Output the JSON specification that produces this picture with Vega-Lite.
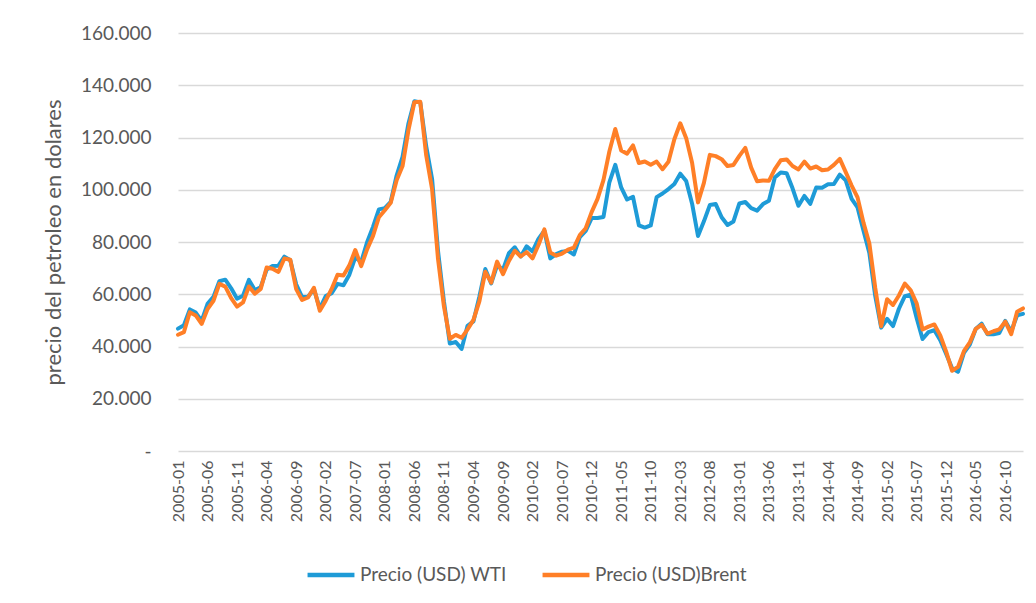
{
  "$schema": "https://vega.github.io/schema/vega-lite/v6.json",
  "width": 845,
  "height": 418,
  "autosize": {"type": "none"},
  "padding": {"left": 178, "top": 33, "right": 13, "bottom": 152},
  "background": "white",
  "config": {
    "font": "Lato",
    "view": {"stroke": null}
  },
  "data": {
    "values": [
      {"m":"2005-01","w":46.84,"b":44.51},{"m":"2005-02","w":48.15,"b":45.48},{"m":"2005-03","w":54.19,"b":53.10},{"m":"2005-04","w":52.98,"b":51.88},{"m":"2005-05","w":49.83,"b":48.65},{"m":"2005-06","w":56.35,"b":54.35},{"m":"2005-07","w":59.00,"b":57.52},{"m":"2005-08","w":64.99,"b":63.98},{"m":"2005-09","w":65.59,"b":62.91},{"m":"2005-10","w":62.26,"b":58.54},{"m":"2005-11","w":58.32,"b":55.24},{"m":"2005-12","w":59.41,"b":56.86},
      {"m":"2006-01","w":65.49,"b":62.99},{"m":"2006-02","w":61.63,"b":60.21},{"m":"2006-03","w":62.69,"b":62.06},{"m":"2006-04","w":69.44,"b":70.26},{"m":"2006-05","w":70.84,"b":69.78},{"m":"2006-06","w":70.95,"b":68.56},{"m":"2006-07","w":74.41,"b":73.67},{"m":"2006-08","w":73.04,"b":73.23},{"m":"2006-09","w":63.80,"b":61.96},{"m":"2006-10","w":58.89,"b":57.81},{"m":"2006-11","w":59.08,"b":58.76},{"m":"2006-12","w":61.96,"b":62.47},
      {"m":"2007-01","w":54.51,"b":53.68},{"m":"2007-02","w":59.28,"b":57.56},{"m":"2007-03","w":60.44,"b":62.05},{"m":"2007-04","w":63.98,"b":67.49},{"m":"2007-05","w":63.46,"b":67.21},{"m":"2007-06","w":67.49,"b":71.05},{"m":"2007-07","w":74.12,"b":76.93},{"m":"2007-08","w":72.36,"b":70.76},{"m":"2007-09","w":79.92,"b":77.17},{"m":"2007-10","w":85.80,"b":82.34},{"m":"2007-11","w":92.50,"b":89.50},
      {"m":"2008-01","w":92.97,"b":92.18},{"m":"2008-02","w":95.39,"b":94.99},{"m":"2008-03","w":105.45,"b":103.64},{"m":"2008-04","w":112.58,"b":109.07},{"m":"2008-05","w":125.40,"b":122.80},{"m":"2008-06","w":133.88,"b":133.5},{"m":"2008-07","w":133.37,"b":133.72},{"m":"2008-08","w":116.67,"b":113.24},{"m":"2008-09","w":104.11,"b":100.23},{"m":"2008-10","w":76.61,"b":73.58},{"m":"2008-11","w":57.31,"b":55.45},{"m":"2008-12","w":41.12,"b":42.95},
      {"m":"2009-01","w":41.71,"b":44.44},{"m":"2009-02","w":39.09,"b":43.32},{"m":"2009-03","w":47.94,"b":46.54},{"m":"2009-04","w":49.65,"b":50.18},{"m":"2009-05","w":59.03,"b":57.30},{"m":"2009-06","w":69.64,"b":68.61},{"m":"2009-07","w":64.15,"b":64.44},{"m":"2009-08","w":71.05,"b":72.51},{"m":"2009-09","w":69.41,"b":67.65},{"m":"2009-10","w":75.72,"b":72.77},{"m":"2009-11","w":77.99,"b":76.66},{"m":"2009-12","w":74.47,"b":74.46},
      {"m":"2010-01","w":78.33,"b":76.17},{"m":"2010-02","w":76.39,"b":73.75},{"m":"2010-03","w":81.20,"b":78.83},{"m":"2010-04","w":84.29,"b":84.82},{"m":"2010-05","w":73.74,"b":75.95},{"m":"2010-06","w":75.34,"b":74.76},{"m":"2010-07","w":76.32,"b":75.58},{"m":"2010-08","w":76.60,"b":77.04},{"m":"2010-09","w":75.24,"b":77.84},{"m":"2010-10","w":81.89,"b":82.67},{"m":"2010-11","w":84.25,"b":85.28},{"m":"2010-12","w":89.15,"b":91.45},
      {"m":"2011-01","w":89.17,"b":96.52},{"m":"2011-02","w":89.58,"b":103.72},{"m":"2011-03","w":102.86,"b":114.64},{"m":"2011-04","w":109.53,"b":123.26},{"m":"2011-05","w":100.90,"b":114.99},{"m":"2011-06","w":96.26,"b":113.83},{"m":"2011-07","w":97.30,"b":116.97},{"m":"2011-08","w":86.33,"b":110.22},{"m":"2011-09","w":85.52,"b":110.83},{"m":"2011-10","w":86.32,"b":109.55},{"m":"2011-11","w":97.16,"b":110.77},{"m":"2011-12","w":98.56,"b":107.87},
      {"m":"2012-01","w":100.27,"b":110.69},{"m":"2012-02","w":102.20,"b":119.33},{"m":"2012-03","w":106.16,"b":125.45},{"m":"2012-04","w":103.32,"b":119.75},{"m":"2012-05","w":94.66,"b":110.34},{"m":"2012-06","w":82.30,"b":95.16},{"m":"2012-07","w":87.90,"b":102.62},{"m":"2012-08","w":94.13,"b":113.36},{"m":"2012-09","w":94.51,"b":112.86},{"m":"2012-10","w":89.49,"b":111.71},{"m":"2012-11","w":86.53,"b":109.06},{"m":"2012-12","w":87.86,"b":109.49},
      {"m":"2013-01","w":94.76,"b":112.96},{"m":"2013-02","w":95.31,"b":116.05},{"m":"2013-03","w":92.94,"b":108.47},{"m":"2013-04","w":92.02,"b":103.25},{"m":"2013-05","w":94.51,"b":103.56},{"m":"2013-06","w":95.77,"b":103.42},{"m":"2013-07","w":104.67,"b":107.93},{"m":"2013-08","w":106.57,"b":111.28},{"m":"2013-09","w":106.29,"b":111.60},{"m":"2013-10","w":100.54,"b":109.08},{"m":"2013-11","w":93.86,"b":107.79},{"m":"2013-12","w":97.63,"b":110.76},
      {"m":"2014-01","w":94.62,"b":108.12},{"m":"2014-02","w":100.82,"b":108.90},{"m":"2014-03","w":100.80,"b":107.48},{"m":"2014-04","w":102.07,"b":107.76},{"m":"2014-05","w":102.18,"b":109.54},{"m":"2014-06","w":105.79,"b":111.80},{"m":"2014-07","w":103.59,"b":106.77},{"m":"2014-08","w":96.54,"b":101.61},{"m":"2014-09","w":93.21,"b":97.09},{"m":"2014-10","w":84.40,"b":87.43},{"m":"2014-11","w":75.79,"b":79.44},{"m":"2014-12","w":59.29,"b":62.34},
      {"m":"2015-01","w":47.22,"b":47.76},{"m":"2015-02","w":50.58,"b":58.10},{"m":"2015-03","w":47.82,"b":55.89},{"m":"2015-04","w":54.45,"b":59.52},{"m":"2015-05","w":59.27,"b":64.08},{"m":"2015-06","w":59.82,"b":61.48},{"m":"2015-07","w":50.90,"b":56.56},{"m":"2015-08","w":42.87,"b":46.52},{"m":"2015-09","w":45.48,"b":47.62},{"m":"2015-10","w":46.22,"b":48.43},{"m":"2015-11","w":42.44,"b":44.27},{"m":"2015-12","w":37.19,"b":38.01},
      {"m":"2016-01","w":31.68,"b":30.70},{"m":"2016-02","w":30.32,"b":32.18},{"m":"2016-03","w":37.55,"b":38.21},{"m":"2016-04","w":40.75,"b":41.58},{"m":"2016-05","w":46.71,"b":46.74},{"m":"2016-06","w":48.76,"b":48.25},{"m":"2016-07","w":44.65,"b":44.95},{"m":"2016-08","w":44.72,"b":45.84},{"m":"2016-09","w":45.18,"b":46.57},{"m":"2016-10","w":49.78,"b":49.52},{"m":"2016-11","w":45.66,"b":44.73},{"m":"2016-12","w":51.97,"b":53.31},
      {"m":"2017-01","w":52.50,"b":54.58}
    ]
  },
  "transform": [
    {"fold": ["w", "b"], "as": ["serie", "precio"]}
  ],
  "mark": {"type": "line", "strokeWidth": 4, "strokeJoin": "round", "strokeCap": "round"},
  "encoding": {
    "x": {
      "field": "m",
      "type": "ordinal",
      "scale": {"type": "point", "padding": 0},
      "axis": {
        "title": null,
        "values": ["2005-01","2005-06","2005-11","2006-04","2006-09","2007-02","2007-07","2008-01","2008-06","2008-11","2009-04","2009-09","2010-02","2010-07","2010-12","2011-05","2011-10","2012-03","2012-08","2013-01","2013-06","2013-11","2014-04","2014-09","2015-02","2015-07","2015-12","2016-05","2016-10"],
        "labelAngle": -90,
        "labelAlign": "right",
        "labelBaseline": "middle",
        "labelFontSize": 16,
        "labelColor": "#595959",
        "labelPadding": 9,
        "ticks": false,
        "domain": false,
        "grid": false
      }
    },
    "y": {
      "field": "precio",
      "type": "quantitative",
      "scale": {"domain": [0, 160], "nice": false, "zero": true},
      "axis": {
        "title": "precio del petroleo en dolares",
        "titleFontSize": 22,
        "titleFontWeight": "normal",
        "titleColor": "#595959",
        "titlePadding": 15,
        "values": [0, 20, 40, 60, 80, 100, 120, 140, 160],
        "labelExpr": "datum.value == 0 ? '-' : format(datum.value, '.3f')",
        "labelFontSize": 19,
        "labelColor": "#595959",
        "labelPadding": 27,
        "ticks": false,
        "domain": false,
        "grid": true,
        "gridColor": "#D9D9D9",
        "gridWidth": 1.3
      }
    },
    "color": {
      "field": "serie",
      "type": "nominal",
      "scale": {"domain": ["w", "b"], "range": ["#1E9BD7", "#FF7F27"]},
      "legend": {
        "title": null,
        "orient": "none",
        "legendX": 127,
        "legendY": 516,
        "direction": "horizontal",
        "labelExpr": "datum.value == 'w' ? 'Precio (USD) WTI' : 'Precio (USD)Brent'",
        "symbolType": "stroke",
        "symbolSize": 2200,
        "symbolStrokeWidth": 4.5,
        "labelFontSize": 19,
        "labelLimit": 400,
        "labelColor": "#595959",
        "labelOffset": 3,
        "columnPadding": 26
      }
    }
  }
}
